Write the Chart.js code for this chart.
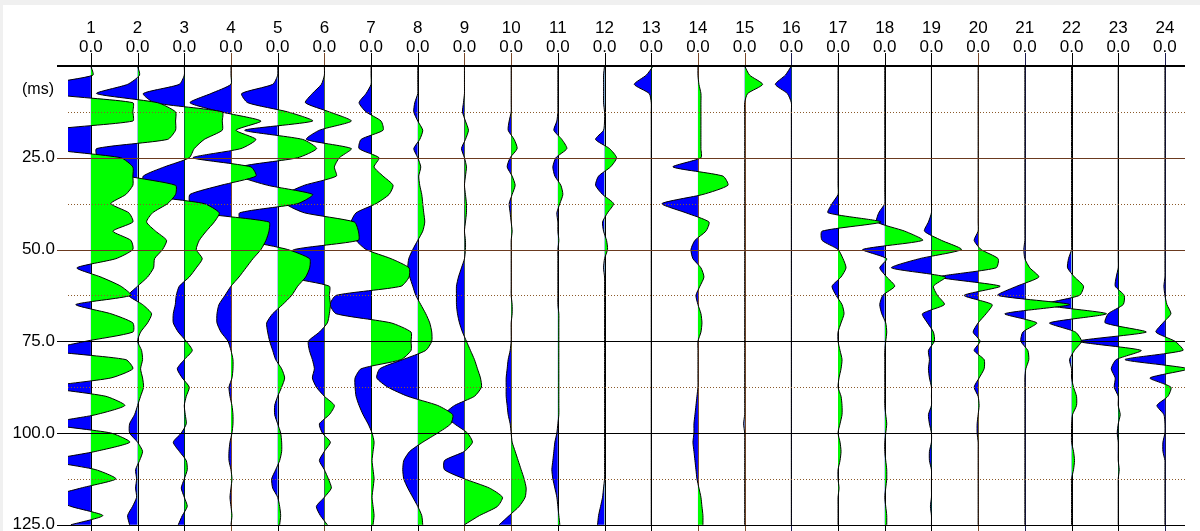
<!DOCTYPE html>
<html><head><meta charset="utf-8">
<script src="https://cdn.jsdelivr.net/npm/chart.js@4"></script>
<style>
html,body{margin:0;padding:0;background:#f0f0f0;overflow:hidden}
#wrap{position:absolute;left:3px;top:5px;width:1197px;height:526px;background:#fff}
</style></head><body>
<div id="wrap"><canvas id="c" width="1197" height="526"></canvas></div>
<script>
// time samples (ms), 2.5 ms interval
const times = Array.from({length:51},(_, i)=>i*2.5);
const traceLabels = ['1','2','3','4','5','6','7','8','9','10','11','12','13','14','15','16','17','18','19','20','21','22','23','24'];
const offsetLabels = Array(24).fill('0.0');
const timeTicks = [25,50,75,100,125];
const minorTicks = [12.5,37.5,62.5,87.5,112.5];
// amplitudes per trace (display units)
const tr1  = [0,2,-42,-42,42,42,42,-42,-42,-42,30,42,42,42,35,20,38,42,22,40,42,25,-14,10,30,40,-15,20,42,42,-5,-42,35,42,20,-42,15,34,5,-42,20,39,5,-40,5,25,-10,-40,-20,12,-20];
const tr2  = [0,2,-10,-41,20,38,38,38,30,-41,-41,-41,-10,38,38,30,15,9,18,29,25,17,16,10,0,-9,5,14,10,3,0,4,5,3,5,6,3,0,-3,-8,-8,0,5,2,-2,-1,-2,-1,-5,-10,-8];
const tr3  = [0,0,-5,-41,-30,38,38,38,20,10,5,-20,-41,-41,-41,20,35,30,22,15,12,18,12,5,-5,-8,-9,-11,-11,-6,2,8,0,-7,-2,5,2,0,1,2,-3,-11,-5,2,3,0,-3,0,3,-2,-6];
const tr4  = [0,0,0,-20,-41,-10,30,5,25,10,-38,20,25,-10,-41,-41,-30,38,38,35,30,22,15,8,0,-6,-12,-14,-14,-10,-3,0,2,2,1,-2,-1,1,2,2,1,-1,-2,-2,0,1,0,-1,0,1,0];
const tr5  = [0,0,-5,-36,-30,10,35,-33,25,39,20,-38,-38,-10,35,20,-38,-38,-38,-30,10,32,32,28,20,14,5,-5,-11,-10,-8,-5,-2,4,7,4,0,-3,-3,0,3,4,4,2,-2,-6,-5,0,2,3,2];
const tr6  = [0,0,-3,-12,-19,5,27,-5,-18,27,15,10,12,-20,-39,-39,-20,30,34,34,-30,-41,-41,-35,5,5,6,5,3,-5,-16,-15,-12,-10,-12,-8,0,10,5,-5,-2,6,0,-5,0,4,7,0,-8,-4,3];
const tr7  = [0,0,0,-5,-12,-5,10,12,-10,-12,8,3,12,22,18,5,-15,-20,-18,-15,-5,20,38,38,30,-35,-41,-35,20,40,40,40,30,-10,-16,-16,-15,-12,-8,-3,1,3,2,1,2,3,2,1,2,3,2];
const tr8  = [0,0,0,0,-3,-4,0,5,2,-4,0,3,1,2,4,5,6,7,5,0,-5,-9,-10,-8,-5,-2,3,8,12,14,14,8,-15,-38,-41,-30,-10,20,35,33,20,5,-8,-14,-15,-14,-10,-5,0,4,5];
const tr9  = [0,0,0,0,-1,-2,1,4,1,-3,0,2,1,0,1,2,2,1,0,1,1,0,-3,-6,-8,-8,-8,-7,-5,-2,2,6,10,13,16,17,10,-10,-20,-10,3,8,0,-20,-20,0,25,38,33,15,0];
const tr10 = [0,0,0,0,0,0,-2,-3,3,6,-1,-4,1,4,1,-2,-1,0,1,0,0,0,0,0,0,0,1,1,0,0,0,-1,-3,-4,-5,-5,-5,-4,-3,-1,0,1,4,7,10,13,15,14,8,-2,-12];
const tr11 = [0,0,0,0,0,0,-1,-4,4,9,-2,-5,-3,3,5,2,-1,0,0,1,0,0,0,0,0,0,0,1,1,1,1,1,1,1,1,1,1,1,1,0,-1,-3,-4,-5,-6,-5,-3,-1,0,1,2];
const tr12 = [0,-1,-1,-1,-1,0,0,-1,-9,5,12,6,-6,-9,-2,9,3,-2,-1,2,3,0,-1,0,0,0,0,0,0,0,0,0,0,0,0,0,0,0,0,0,0,0,0,0,0,0,-1,-2,-4,-6,-7];
const tr13 = [2,-5,-17,-2,0,0,0,0,0,0,0,0,0,0,0,0,0,0,0,0,0,0,0,0,0,0,0,0,0,0,0,0,0,0,0,0,0,0,0,0,0,0,0,0,0,0,0,0,0,0,0];
const tr14 = [0,0,1,3,3,3,3,3,3,3,3,-25,25,30,5,-36,-12,11,8,-3,-7,-5,3,6,2,-2,0,3,4,3,0,0,0,0,0,0,-1,-2,-3,-4,-4,-5,-4,-3,-2,-1,1,3,4,5,5];
const tr15 = [0,5,18,3,0,0,0,0,0,0,0,0,0,0,0,0,0,0,0,0,0,0,0,0,0,0,0,0,0,0,0,0,0,0,0,0,0,0,0,-1,0,0,0,0,0,0,0,0,0,0,0];
const tr16 = [0,-6,-16,-4,0,0,0,0,0,0,0,0,0,0,0,0,0,0,0,0,0,0,0,0,0,0,0,0,0,0,0,0,0,0,0,0,0,0,0,0,0,0,0,0,0,0,0,0,0,0,0];
const tr17 = [0,0,0,0,0,0,0,0,0,0,0,0,0,0,0,-6,-10,43,-16,-16,0,5,8,3,-6,-2,4,6,3,0,0,2,4,3,1,0,3,4,4,2,0,2,3,2,0,0,1,0,0,0,0];
const tr18 = [0,0,0,0,0,0,0,0,0,0,0,0,0,0,0,0,-6,-8,20,38,-22,2,-5,2,10,-2,-5,-3,1,2,1,0,0,0,0,0,0,0,1,2,1,0,0,1,2,2,1,0,1,2,2];
const tr19 = [0,0,0,0,0,0,0,0,0,0,0,0,0,0,0,0,0,-3,-7,10,30,-12,-40,14,2,6,13,-9,-4,2,3,-3,-2,-3,-2,0,0,0,-3,-2,0,0,-2,-2,0,0,0,0,-1,0,0];
const tr20 = [0,0,0,0,0,0,0,0,0,0,0,0,0,0,0,0,0,0,0,-4,3,20,18,-39,22,-14,14,8,0,-5,2,-4,6,6,1,-4,0,1,0,-1,-1,0,0,0,0,0,0,0,0,0,0];
const tr21 = [0,0,0,0,0,0,0,0,0,0,0,0,0,0,0,0,0,0,0,0,-1,0,5,14,-8,-27,45,-20,12,-2,-4,3,4,1,0,0,0,0,0,0,0,0,0,0,0,0,0,0,0,0,0];
const tr22 = [0,0,0,0,0,0,0,0,0,0,0,0,0,0,0,0,0,0,0,0,0,-3,-4,3,12,8,-28,35,-22,4,10,3,-2,0,0,2,5,5,1,0,0,0,2,3,2,0,0,0,0,0,0];
const tr23 = [0,0,0,0,0,0,0,0,0,0,0,0,0,0,0,0,0,0,0,0,0,0,0,-2,-3,6,5,-10,-13,28,-40,23,-2,-7,-3,-4,0,0,2,0,-1,0,0,0,1,0,0,0,0,0,0];
const tr24 = [0,0,0,0,0,0,0,0,0,0,0,0,0,0,0,0,0,0,0,0,0,0,0,0,-1,0,2,6,-2,-9,10,18,-40,23,-15,6,3,-8,-1,0,0,-2,-2,0,0,0,0,0,0,0,0];
const traces = [tr1,tr2,tr3,tr4,tr5,tr6,tr7,tr8,tr9,tr10,tr11,tr12,tr13,tr14,tr15,tr16,tr17,tr18,tr19,tr20,tr21,tr22,tr23,tr24];

const GAIN = 1/46.7;
const baseColors = ['#000','#000','#000','#7a4a2a','#000','#7a4a2a','#000','#000','#7a4a2a','#7a4a2a','#000','#000','#000','#7a4a2a','#7a4a2a','#1a1a50','#000','#000','#000','#7a4a2a','#1a1a50','#000','#000','#1a1a50'];

const datasets = traces.map((a,k)=>({
  label: traceLabels[k],
  data: a.map((v,i)=>({x:(k+1)+v*GAIN, y:times[i]})),
  showLine:true, borderColor:'#000', borderWidth:1, pointRadius:0, tension:0.2, fill:false
}));

const seis = {
  id:'seis',
  beforeDatasetsDraw(chart){
    const {ctx, chartArea:ca, scales:{x,y}} = chart;
    ctx.save();
    traces.forEach((a,k)=>{
      const px = Math.round(x.getPixelForValue(k+1))+0.5;
      ctx.strokeStyle = baseColors[k]; ctx.lineWidth=1;
      ctx.beginPath(); ctx.moveTo(px, 48); ctx.lineTo(px, ca.bottom); ctx.stroke();
    });
    ctx.restore();
  },
  beforeDatasetDraw(chart, args){
    const {ctx, chartArea:ca, scales:{x}} = chart;
    const k = args.index, meta = args.meta, line = meta.dataset, pts = meta.data;
    const base = x.getPixelForValue(k+1);
    try { line.updateControlPoints(ca, 'x'); } catch(e){}
    const build = ()=>{
      ctx.beginPath();
      try { line.path(ctx); } catch(e){ ctx.moveTo(pts[0].x, pts[0].y); pts.forEach(p=>ctx.lineTo(p.x,p.y)); }
      ctx.lineTo(base, pts[pts.length-1].y);
      ctx.lineTo(base, pts[0].y);
      ctx.closePath();
    };
    ctx.save();
    ctx.beginPath(); ctx.rect(ca.left, ca.top, ca.right-ca.left, ca.bottom-ca.top); ctx.clip();
    ctx.save(); ctx.beginPath(); ctx.rect(base, ca.top, 200, ca.bottom-ca.top); ctx.clip();
    build(); ctx.fillStyle='#00ff00'; ctx.fill(); ctx.restore();
    ctx.save(); ctx.beginPath(); ctx.rect(base-200, ca.top, 200, ca.bottom-ca.top); ctx.clip();
    build(); ctx.fillStyle='#0000ff'; ctx.fill(); ctx.restore();
    ctx.restore();
  },
  afterDatasetsDraw(chart){
    const {ctx, chartArea:ca, scales:{x,y}} = chart;
    ctx.save();
    ctx.strokeStyle='#8b5a2b'; ctx.lineWidth=1; ctx.setLineDash([1,2]);
    minorTicks.forEach(t=>{ const py=Math.round(y.getPixelForValue(t))+0.5;
      ctx.beginPath(); ctx.moveTo(ca.left,py); ctx.lineTo(ca.right,py); ctx.stroke(); });
    ctx.setLineDash([]);
    timeTicks.forEach(t=>{ const py=Math.round(y.getPixelForValue(t))+0.5;
      ctx.strokeStyle = (t===25||t===50)?'#6b3a1f':'#000';
      ctx.beginPath(); ctx.moveTo(ca.left-11,py); ctx.lineTo(ca.right,py); ctx.stroke(); });
    const p0 = y.getPixelForValue(0);
    ctx.strokeStyle='#000'; ctx.lineWidth=2;
    ctx.beginPath(); ctx.moveTo(ca.left-11,p0); ctx.lineTo(ca.right,p0); ctx.stroke();
    ctx.fillStyle='#000'; ctx.textBaseline='middle';
    ctx.font='17px "Liberation Sans", Arial, sans-serif'; ctx.textAlign='center';
    traceLabels.forEach((s,k)=>{ const px=x.getPixelForValue(k+1);
      ctx.fillText(s, px, 23); ctx.fillText(offsetLabels[k], px, 42); });
    ctx.font='17px "Liberation Sans", Arial, sans-serif'; ctx.textAlign='right';
    timeTicks.forEach(t=>ctx.fillText(t.toFixed(1), ca.left-13, y.getPixelForValue(t)));
    ctx.font='16px "Liberation Sans", Arial, sans-serif'; ctx.textAlign='center';
    ctx.fillText('(ms)', 35, y.getPixelForValue(6.5));
    ctx.restore();
  }
};

new Chart(document.getElementById('c'), {
  type:'scatter',
  data:{datasets},
  options:{
    responsive:false, animation:false, devicePixelRatio:1,
    layout:{padding:{left:65, top:61, right:15, bottom:0}},
    plugins:{legend:{display:false}, tooltip:{enabled:false}},
    scales:{
      x:{type:'linear', display:false, min:0.51, max:24.43},
      y:{type:'linear', display:false, reverse:true, min:0, max:126.7}
    }
  },
  plugins:[seis]
});
</script>
</body></html>
